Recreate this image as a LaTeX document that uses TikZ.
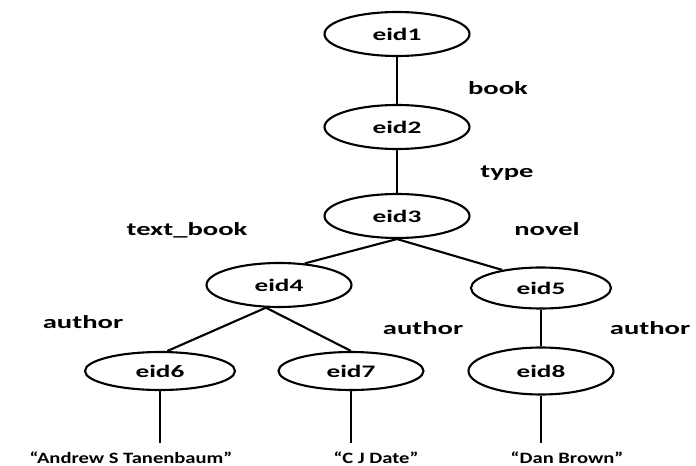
\documentclass[tikz,border=0pt]{standalone}
\usepackage{fontspec}
\usepackage{tikz}
\usetikzlibrary{shapes.geometric}
\newfontfamily\eidfont[FakeStretch=1.55]{Carlito}
\newfontfamily\valfont[FakeStretch=1.3]{Carlito}

\begin{document}
\begin{tikzpicture}[x=0.02cm, y=-0.02cm,
    entity/.style={ellipse, draw, line width=1.2pt, minimum width=2.9cm, minimum height=0.88cm, inner sep=0pt, font=\eidfont\bfseries\fontsize{10}{12}\selectfont},
    edge/.style={line width=1.2pt},
    elabel/.style={font=\eidfont\bfseries\fontsize{10.5}{12}\selectfont},
    value/.style={font=\valfont\bfseries\fontsize{9}{11}\selectfont}]
    \useasboundingbox (0,0) rectangle (696,466);
    % entities
    \node[entity] (eid1) at (397,34) {eid1};
    \node[entity] (eid2) at (397,127) {eid2};
    \node[entity] (eid3) at (397,216) {eid3};
    \node[entity] (eid4) at (279,285) {eid4};
    \node[entity, minimum width=2.8cm, minimum height=0.82cm] (eid5) at (541,288) {eid5};
    \node[entity, minimum width=3cm, minimum height=0.76cm] (eid6) at (160,371) {eid6};
    \node[entity, minimum height=0.76cm] (eid7) at (351,371) {eid7};
    \node[entity, minimum height=0.94cm] (eid8) at (541,371) {eid8};
    \coordinate (v6) at (160,443);
    \coordinate (v7) at (351,443);
    \coordinate (v8) at (541,443);
    % edges
    \draw[edge] (eid1) -- (eid2);
    \draw[edge] (eid2) -- (eid3);
    \draw[edge] (eid3.south) -- (eid4.40);
    \draw[edge] (eid3.south) -- (eid5.155);
    \draw[edge] (eid4.240) -- (eid6.70);
    \draw[edge] (eid4.240) -- (eid7.north);
    \draw[edge] (eid5) -- (eid8);
    \draw[edge] (eid6) -- (v6);
    \draw[edge] (eid7) -- (v7);
    \draw[edge] (eid8) -- (v8);
    % edge labels
    \node[elabel] (book) at (498,88) {book};
    \node[elabel] (type) at (507,173) {type};
    \node[elabel] (textbook) at (187,230) {text\_book};
    \node[elabel] (novel) at (547,229) {novel};
    \node[elabel] (author1) at (83,322) {author};
    \node[elabel] (author2) at (423,328) {author};
    \node[elabel] (author3) at (650,328) {author};
    % values
    \node[value] (andrew) at (131,458) {“Andrew S Tanenbaum”};
    \node[value] (date) at (376,458) {“C J Date”};
    \node[value] (brown) at (567,458) {“Dan Brown”};
\end{tikzpicture}
\end{document}
